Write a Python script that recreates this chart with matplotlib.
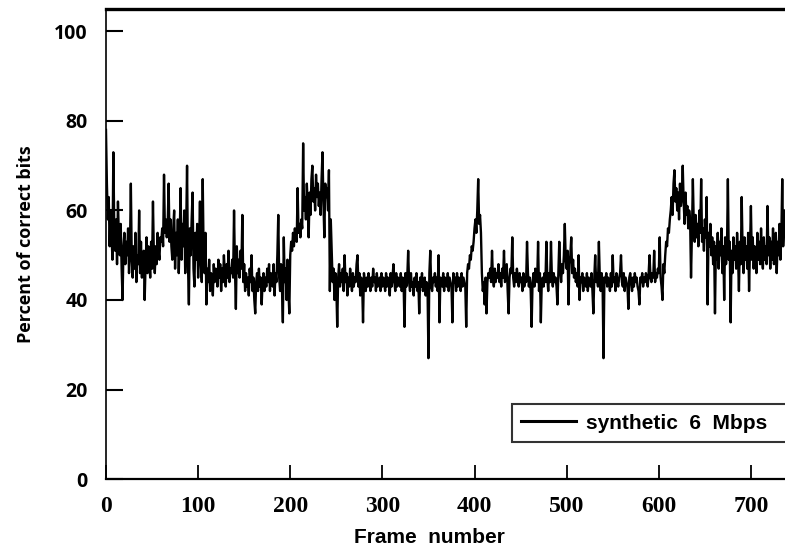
import numpy as np
import matplotlib
matplotlib.use("Agg")
import matplotlib.pyplot as plt

# percent of correct bits per frame
percent_correct = [
    78, 66, 58, 63, 52, 60, 55, 49, 73, 56, 51, 58, 48, 62, 54, 50, 57, 47, 40, 52,
    55, 48, 53, 50, 56, 46, 51, 66, 49, 45, 52, 47, 55, 44, 50, 48, 60, 46, 53, 45,
    49, 51, 40, 48, 54, 46, 52, 49, 45, 53, 47, 62, 50, 46, 52, 48, 55, 51, 49, 54,
    53, 56, 52, 68, 55, 58, 54, 57, 66, 53, 58, 52, 49, 56, 60, 47, 55, 50, 58, 46,
    54, 65, 49, 57, 52, 60, 46, 55, 70, 48, 39, 56, 50, 58, 64, 47, 43, 55, 49, 57,
    45, 52, 62, 48, 44, 67, 50, 46, 55, 39, 47, 44, 49, 42, 46, 45, 41, 48, 44, 47,
    46, 43, 49, 45, 48, 42, 47, 44, 50, 46, 43, 48, 45, 51, 44, 47, 46, 49, 45, 60,
    47, 38, 52, 46, 49, 45, 51, 47, 59, 44, 48, 42, 46, 43, 45, 41, 47, 44, 50, 42,
    45, 40, 37, 44, 46, 42, 47, 43, 45, 39, 44, 46, 42, 45, 43, 47, 44, 48, 42, 46,
    45, 43, 48, 41, 46, 44, 50, 59, 45, 42, 48, 43, 35, 54, 44, 47, 40, 49, 42, 37,
    50, 53, 51, 55, 52, 56, 54, 53, 65, 55, 57, 54, 58, 56, 75, 60, 63, 58, 66, 61,
    54, 64, 59, 67, 70, 62, 65, 60, 68, 63, 66, 61, 64, 59, 67, 73, 62, 54, 66, 63,
    65, 60, 69, 42, 58, 51, 44, 47, 40, 46, 43, 34, 45, 48, 43, 46, 44, 47, 42, 50,
    44, 46, 41, 45, 43, 47, 44, 42, 46, 43, 45, 44, 48, 50, 43, 46, 41, 45, 44, 35,
    46, 44, 42, 45, 43, 46, 44, 42, 45, 43, 47, 44, 45, 42, 46, 43, 44, 45, 42, 46,
    43, 45, 44, 42, 46, 43, 45, 44, 41, 46, 43, 45, 48, 44, 42, 46, 43, 45, 44, 43,
    46, 42, 45, 44, 34, 46, 43, 45, 51, 44, 42, 46, 43, 44, 41, 45, 43, 46, 42, 44,
    37, 45, 43, 46, 42, 44, 45, 41, 44, 43, 27, 46, 51, 43, 42, 45, 44, 46, 43, 45,
    42, 50, 35, 45, 44, 43, 46, 42, 45, 44, 43, 46, 42, 45, 44, 43, 35, 46, 44, 45,
    42, 46, 43, 45, 44, 42, 46, 43, 45, 44, 43, 34, 46, 48, 47, 50, 49, 52, 51, 53,
    56, 58, 55, 60, 67, 57, 59, 55, 46, 42, 44, 39, 45, 37, 44, 46, 45, 47, 44, 51,
    45, 43, 47, 44, 46, 45, 48, 44, 46, 43, 47, 45, 51, 44, 46, 48, 42, 37, 45, 47,
    46, 54, 45, 43, 46, 44, 47, 45, 43, 46, 44, 45, 42, 46, 43, 45, 44, 53, 46, 43,
    45, 42, 34, 44, 46, 43, 47, 45, 44, 53, 42, 46, 35, 44, 45, 43, 46, 44, 53, 45,
    42, 46, 44, 53, 45, 43, 46, 44, 45, 43, 39, 46, 53, 47, 44, 48, 46, 50, 57, 49,
    47, 51, 39, 48, 50, 54, 46, 49, 45, 47, 44, 46, 43, 50, 40, 45, 44, 46, 42, 45,
    44, 43, 46, 42, 45, 44, 43, 46, 42, 37, 45, 50, 44, 46, 43, 53, 45, 42, 46, 44,
    27, 45, 44, 46, 43, 45, 44, 42, 46, 43, 50, 44, 45, 42, 46, 44, 43, 45, 46, 50,
    44, 43, 46, 42, 45, 44, 43, 38, 45, 46, 44, 42, 45, 43, 46, 44, 45, 43, 42, 39,
    45, 44, 46, 43, 45, 44, 46, 45, 43, 46, 50, 45, 44, 46, 45, 51, 44, 46, 45, 47,
    46, 54, 45, 43, 40, 48, 46, 50, 53, 52, 56, 55, 58, 60, 63, 59, 66, 69, 62, 65,
    60, 64, 58, 66, 61, 63, 70, 62, 57, 64, 59, 61, 56, 60, 58, 45, 55, 67, 57, 53,
    59, 54, 57, 52, 60, 55, 67, 53, 56, 51, 58, 54, 63, 39, 55, 52, 57, 50, 54, 48,
    53, 37, 52, 49, 55, 47, 53, 50, 56, 46, 52, 40, 54, 48, 51, 67, 49, 53, 35, 51,
    46, 54, 49, 52, 47, 55, 50, 42, 53, 48, 63, 51, 46, 54, 49, 52, 47, 55, 42, 51,
    61, 49, 54, 47, 52, 50, 46, 55, 49, 53, 48, 56, 50, 47, 54, 49, 52, 48, 61, 50,
    54, 47, 53, 49, 56, 48, 52, 55, 46, 53, 50, 57, 49, 54, 67, 52, 56, 60,
]
frames = np.arange(len(percent_correct))

x_ticks = [0, 100, 200, 300, 400, 500, 600, 700]
y_ticks = [0, 20, 40, 60, 80, 100]
series_label = "synthetic  6  Mbps"

fig = plt.figure(figsize=(7.85, 5.52), dpi=100)
ax = fig.add_axes([0.135, 0.1322, 0.865, 0.8514])

ax.plot(frames, percent_correct, color="black", linewidth=1.7, label=series_label)

ax.set_xlim(0, 737)
ax.set_ylim(0, 105)

ax.set_xticks(x_ticks)
ax.set_xticklabels([str(v) for v in x_ticks], family="Liberation Serif", fontweight="bold", fontsize=17)
ax.set_yticks(y_ticks)
ax.set_yticklabels([str(v) for v in y_ticks], family="Open Sans", fontweight="bold", fontsize=14)
ax.tick_params(axis="x", direction="in", length=10, width=1.3, pad=12)
ax.tick_params(axis="y", direction="in", length=12, width=1.5, pad=13)

ax.spines["left"].set_linewidth(1.2)
ax.spines["bottom"].set_linewidth(1.6)
ax.spines["top"].set_linewidth(2.4)
ax.spines["right"].set_visible(False)

ax.set_xlabel("Frame  number", family="Liberation Sans", fontweight="bold", fontsize=15)
ax.xaxis.set_label_coords(0.477, -0.105)
ax.set_ylabel("Percent of correct bits", family="Open Sans", fontweight="bold", fontsize=13)
ax.yaxis.set_label_coords(-0.105, 0.5)

leg = ax.legend(loc="lower left", bbox_to_anchor=(0.598, 0.079, 0.42, 0.076), mode="expand",
                frameon=True, fancybox=False, borderpad=0.45, handlelength=2.6,
                handletextpad=0.5, borderaxespad=0,
                prop={"family": "Liberation Sans", "weight": "bold", "size": 15})
leg.get_frame().set_edgecolor("black")
leg.get_frame().set_linewidth(1.5)
leg.get_lines()[0].set_linewidth(2.2)

fig.savefig("out.png", dpi=100)
